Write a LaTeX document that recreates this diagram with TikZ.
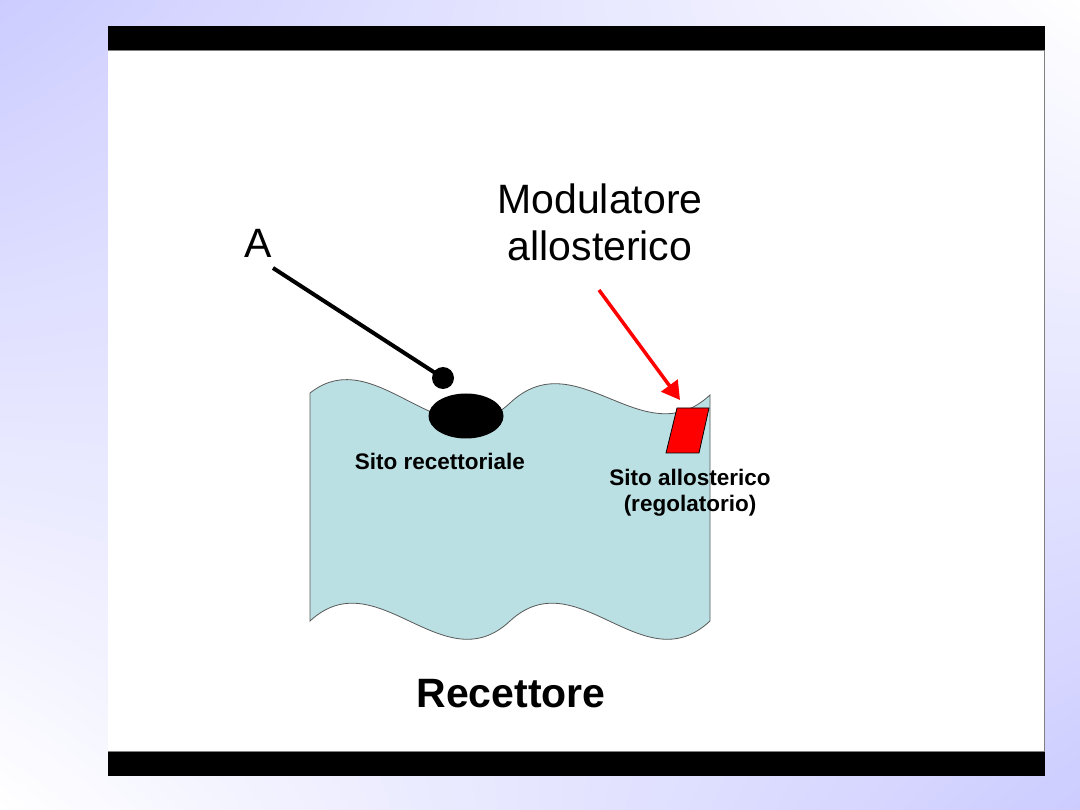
\documentclass[tikz,border=0pt]{standalone}
\usepackage{fontspec}
\setmainfont{Liberation Sans}
\usetikzlibrary{arrows.meta}
\usetikzlibrary{shapes.geometric}
\usetikzlibrary{shadings}
\definecolor{lavbg}{RGB}{204,204,255}
\definecolor{recfill}{RGB}{187,224,227}
\newcommand{\bigtxt}{\fontsize{41}{47}\selectfont}
\newcommand{\smalltxt}{\fontsize{22.5}{25.5}\selectfont\bfseries}

\begin{document}
\begin{tikzpicture}[x=1pt,y=-1pt,
  lab/.style={inner sep=0pt,align=center},
  redarrow/.style={draw=red,line width=3.5pt,-{Triangle[length=18pt,width=20pt]}}]
\useasboundingbox (0,0) rectangle (1080,810);
\shade[upper left=lavbg,lower right=lavbg,upper right=white,lower left=white] (0,0) rectangle (1080,810);
% slide frame
\fill[white] (108,26) rectangle (1045,776);
\fill[black] (108,26) rectangle (1045,50);
\fill[black] (108,752) rectangle (1045,776);
\draw[gray,line width=1pt] (108,50.5) -- (1045,50.5);
\draw[gray,line width=1pt] (108,751.5) -- (1045,751.5);
\draw[gray,line width=1pt] (1044.5,50) -- (1044.5,752);
% recettore
\draw[fill=recfill,draw=black!65,line width=0.8pt] (310,393) .. controls (377,340) and (443,466) .. (510,403)
  .. controls (577,340) and (643,457) .. (710,395) -- (710,621)
  .. controls (643,684) and (577,559) .. (510,621)
  .. controls (443,684) and (377,559) .. (310,621) -- cycle;
\draw(466,416) node[ellipse,fill=black,minimum width=75pt,minimum height=45pt,inner sep=0pt] (recsite) {};
\draw[fill=red,draw=black,line width=0.8pt] (677,408) -- (709,408) -- (699,453) -- (666,453) -- cycle;
\coordinate (allotip) at (680,400);
% agonista A
\draw(258,243) node[lab,font=\bigtxt] (A) {A};
\coordinate (Atail) at (273,268);
\draw(443,378) node[circle,fill=black,minimum size=22pt,inner sep=0pt] (ball) {};
\draw[line width=4pt] (Atail) -- (ball.center);
% modulatore
\draw(600,261) node[lab,anchor=south,font=\bigtxt] (mod) {Modulatore\\allosterico};
\coordinate (modtail) at (599,290);
\draw[redarrow] (modtail) -- (allotip);
% etichette
\draw(440,469) node[lab,anchor=base,font=\smalltxt] (recsitelab) {Sito recettoriale};
\draw(690,469) node[lab,anchor=north,font=\smalltxt] (allolab) {Sito allosterico\\(regolatorio)};
\draw(511,707) node[lab,anchor=base,font=\bigtxt\bfseries] (rec) {Recettore};
\end{tikzpicture}
\end{document}
